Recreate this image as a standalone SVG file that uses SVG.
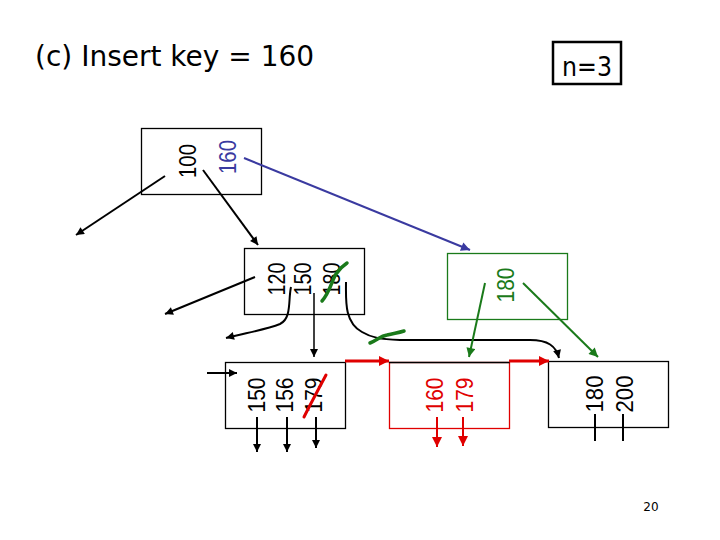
<svg xmlns="http://www.w3.org/2000/svg" width="720" height="540" viewBox="0 0 720 540">
<defs>
<marker id="ak" viewBox="0 0 10 10" refX="10" refY="5" markerWidth="10" markerHeight="8" markerUnits="userSpaceOnUse" orient="auto"><path d="M0,0 L10,5 L0,10 z" fill="#000"/></marker>
<marker id="ab" viewBox="0 0 10 10" refX="10" refY="5" markerWidth="11" markerHeight="9" markerUnits="userSpaceOnUse" orient="auto"><path d="M0,0 L10,5 L0,10 z" fill="#3a3aa0"/></marker>
<marker id="ag" viewBox="0 0 10 10" refX="10" refY="5" markerWidth="11" markerHeight="9" markerUnits="userSpaceOnUse" orient="auto"><path d="M0,0 L10,5 L0,10 z" fill="#1a7a1a"/></marker>
<marker id="ar" viewBox="0 0 10 10" refX="10" refY="5" markerWidth="12" markerHeight="10" markerUnits="userSpaceOnUse" orient="auto"><path d="M0,0 L10,5 L0,10 z" fill="#e00000"/></marker>
</defs>
<style>
.box{fill:#fff;stroke:#000;stroke-width:1.3}
.k{font-family:"Liberation Sans",Arial,sans-serif;font-size:24px;text-anchor:middle}
.t{font-family:"DejaVu Sans",Verdana,sans-serif}
.c{fill:none;stroke:#000;stroke-width:2}
</style>
<rect width="720" height="540" fill="#fff"/>
<text class="t" x="35" y="66" font-size="28">(c) Insert key = 160</text>
<g id="n-label">
<rect x="553" y="42" width="68" height="42" fill="#fff" stroke="#000" stroke-width="2.5"/>
<text class="t" x="562" y="76" font-size="26" textLength="50" lengthAdjust="spacingAndGlyphs">n=3</text>
</g>
<g id="root">
<rect class="box" x="141.5" y="128.5" width="120" height="66"/>
<text class="k" transform="translate(196,161) rotate(-90)" textLength="34" lengthAdjust="spacingAndGlyphs">100</text>
<text class="k" fill="#3a3aa0" transform="translate(236,157) rotate(-90)" textLength="34" lengthAdjust="spacingAndGlyphs">160</text>
</g>
<g id="inner1">
<rect class="box" x="244.5" y="248.5" width="120" height="66"/>
<text class="k" transform="translate(285,279) rotate(-90)" textLength="33" lengthAdjust="spacingAndGlyphs">120</text>
<text class="k" transform="translate(311,279) rotate(-90)" textLength="33" lengthAdjust="spacingAndGlyphs">150</text>
<text class="k" transform="translate(340,279) rotate(-90)" textLength="33" lengthAdjust="spacingAndGlyphs">180</text>
</g>
<g id="inner2">
<rect x="447.5" y="253.5" width="120" height="66" fill="#fff" stroke="#1a7a1a" stroke-width="1.3"/>
<text class="k" fill="#1a7a1a" transform="translate(514,285) rotate(-90)" textLength="35" lengthAdjust="spacingAndGlyphs">180</text>
</g>
<g id="leaf1">
<rect class="box" x="225.5" y="362.5" width="120" height="66"/>
<text class="k" transform="translate(265,395) rotate(-90)" textLength="35" lengthAdjust="spacingAndGlyphs">150</text>
<text class="k" transform="translate(293,395) rotate(-90)" textLength="35" lengthAdjust="spacingAndGlyphs">156</text>
<text class="k" transform="translate(322,395) rotate(-90)" textLength="35" lengthAdjust="spacingAndGlyphs">179</text>
</g>
<g id="leaf2">
<rect x="389.5" y="362.5" width="120" height="66" fill="#fff" stroke="#e00000" stroke-width="1.3"/>
<line x1="389" y1="362.5" x2="510" y2="362.5" stroke="#000" stroke-width="1.5"/>
<text class="k" fill="#e00000" transform="translate(443,395) rotate(-90)" textLength="35" lengthAdjust="spacingAndGlyphs">160</text>
<text class="k" fill="#e00000" transform="translate(473,395) rotate(-90)" textLength="35" lengthAdjust="spacingAndGlyphs">179</text>
</g>
<g id="leaf3">
<rect class="box" x="548.5" y="361.5" width="120" height="66"/>
<text class="k" transform="translate(603,394) rotate(-90)" textLength="37" lengthAdjust="spacingAndGlyphs">180</text>
<text class="k" transform="translate(633,394) rotate(-90)" textLength="37" lengthAdjust="spacingAndGlyphs">200</text>
</g>
<g id="connectors">
<line x1="165" y1="176" x2="76" y2="235" stroke="#000" stroke-width="2" marker-end="url(#ak)"/>
<line x1="203" y1="170" x2="258" y2="245" stroke="#000" stroke-width="2" marker-end="url(#ak)"/>
<line x1="244" y1="158" x2="470" y2="250" stroke="#3a3aa0" stroke-width="2" marker-end="url(#ab)"/>
<line x1="255" y1="277" x2="165" y2="314" stroke="#000" stroke-width="2" marker-end="url(#ak)"/>
<path class="c" d="M291,287 C288,300 292,318 280,324 C265,330 245,333 226,338" marker-end="url(#ak)"/>
<line x1="314" y1="293" x2="314" y2="357" stroke="#000" stroke-width="1.5" marker-end="url(#ak)"/>
<path class="c" d="M346,282 C346,300 344,322 362,332 C372,338 380,339 400,340 L530,340 C548,340 556,346 559,358" marker-end="url(#ak)"/>
<line x1="485" y1="283" x2="469" y2="357" stroke="#1a7a1a" stroke-width="2" marker-end="url(#ag)"/>
<line x1="523" y1="283" x2="598" y2="357" stroke="#1a7a1a" stroke-width="2" marker-end="url(#ag)"/>
<line x1="207" y1="373" x2="237" y2="373" stroke="#000" stroke-width="2" marker-end="url(#ak)"/>
<line x1="257" y1="417" x2="257" y2="452" stroke="#000" stroke-width="2" marker-end="url(#ak)"/>
<line x1="287" y1="417" x2="287" y2="452" stroke="#000" stroke-width="2" marker-end="url(#ak)"/>
<line x1="316" y1="417" x2="316" y2="448" stroke="#000" stroke-width="2" marker-end="url(#ak)"/>
<line x1="437" y1="417" x2="437" y2="447" stroke="#e00000" stroke-width="2" marker-end="url(#ar)"/>
<line x1="463" y1="417" x2="463" y2="446" stroke="#e00000" stroke-width="2" marker-end="url(#ar)"/>
<line x1="595" y1="414" x2="595" y2="441" stroke="#000" stroke-width="2"/>
<line x1="623" y1="414" x2="623" y2="441" stroke="#000" stroke-width="2"/>
<line x1="345" y1="361" x2="389" y2="361" stroke="#e00000" stroke-width="3" marker-end="url(#ar)"/>
<line x1="509" y1="361" x2="549" y2="361" stroke="#e00000" stroke-width="3" marker-end="url(#ar)"/>
</g>
<g id="edits" fill="none" stroke-linecap="round">
<path d="M322,301 C330,292 332,280 336,274 C340,268 344,265 347,263" stroke="#1a7a1a" stroke-width="3.5"/>
<path d="M370,343 C378,340 380,336 387,335 C395,333 398,333 404,331" stroke="#1a7a1a" stroke-width="3.5"/>
<path d="M304,417 C310,405 318,390 326,375" stroke="#e00000" stroke-width="3"/>
</g>
<text class="t" x="651" y="511" font-size="12" text-anchor="middle">20</text>
</svg>
